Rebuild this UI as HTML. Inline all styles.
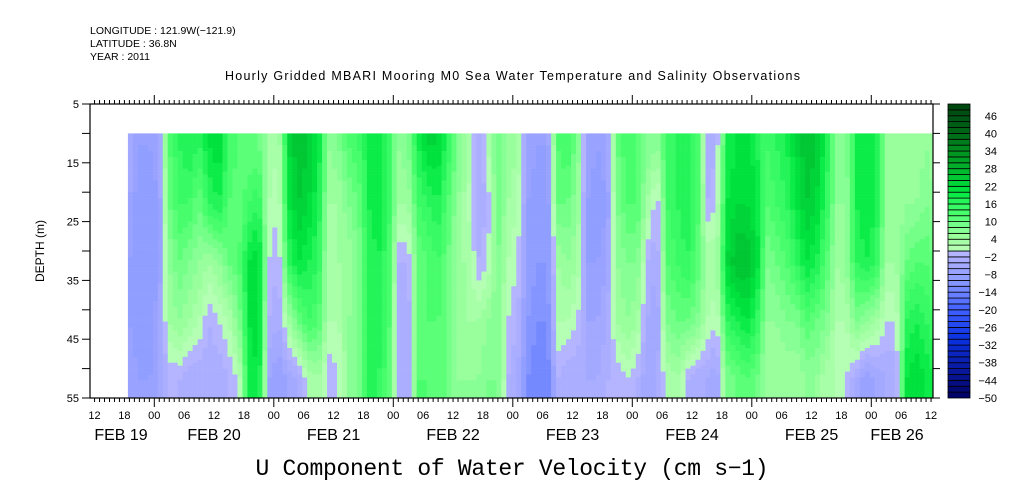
<!DOCTYPE html>
<html><head><meta charset="utf-8"><style>
html,body{margin:0;padding:0;background:#fff;}
svg{display:block;font-family:"Liberation Sans",sans-serif;}
</style></head><body>
<svg id="chart" width="1009" height="504" viewBox="0 0 1009 504">
<text x="90" y="34" font-size="10.5">LONGITUDE : 121.9W(−121.9)</text>
<text x="90" y="47" font-size="10.5">LATITUDE : 36.8N</text>
<text x="90" y="60" font-size="10.5">YEAR : 2011</text>
<text x="225" y="80" font-size="12.5" textLength="575">Hourly Gridded MBARI Mooring M0 Sea Water Temperature and Salinity Observations</text>
<g id="heat"></g>
<g id="axes"></g>
<g id="cbar"></g>
<text x="44" y="251" font-size="12" transform="rotate(-90 44 251)" text-anchor="middle">DEPTH (m)</text>
<text x="512" y="475" font-family="Liberation Mono, monospace" font-size="23" text-anchor="middle" textLength="513">U Component of Water Velocity (cm s−1)</text>
</svg>
<script>
// hours since Feb 19 00:00 (2-hour columns)
const hours = [];
for (let h = 18; h <= 180; h += 2) hours.push(h);
const depths = [12, 22, 32, 42, 52];
const uValues = [
[-4,-6,-8,-8,-6],[-8,-10,-10,-10,-8],[-8,-10,-10,-10,-8],[-6,-8,-8,-6,-6],
[12,10,6,4,-2],[16,14,10,6,-2],[18,14,8,4,-4],[16,10,6,2,-4],
[20,16,4,-2,-4],[22,18,6,0,-4],
[14,12,10,2,-2],[12,10,12,8,0],
[10,14,20,20,18],[10,16,22,22,20],
[4,2,0,-2,-6],[2,0,-2,-4,-8],
[22,20,16,4,-6],[26,24,20,10,-4],[24,22,18,14,2],[20,18,16,12,4],
[6,4,2,2,-2],[8,4,4,2,0],
[12,8,4,6,6],[14,10,8,8,8],
[18,18,16,18,16],[20,20,18,18,16],[16,16,14,14,12],
[6,4,-2,-4,-2],[8,4,-2,-4,-4],
[18,14,10,10,12],[22,16,12,12,12],[22,18,14,12,10],[16,12,10,10,10],
[8,6,4,4,6],[4,2,4,4,6],
[-4,-4,-2,4,6],[2,-2,0,6,8],
[10,10,8,8,8],
[6,4,2,0,-2],[4,2,0,-2,-4],
[-6,-8,-8,-10,-12],[-8,-10,-10,-12,-14],[-8,-10,-10,-12,-14],
[12,10,4,2,-2],[14,10,6,2,-4],[8,6,4,0,-4],
[-6,-8,-8,-6,-4],[-8,-10,-8,-6,-4],[-6,-8,-6,-4,-2],
[10,8,6,4,-2],[14,12,8,6,0],[12,12,8,4,-2],
[8,4,-2,-4,-6],[6,-2,-4,-6,-4],
[14,14,12,8,2],[16,16,14,10,4],[18,18,16,10,-2],[14,14,12,8,-4],
[-4,-2,4,2,-4],[-2,0,4,0,-6],
[18,20,22,16,8],[20,22,26,18,10],[22,22,26,20,12],[18,20,22,16,10],
[14,12,8,6,4],[16,14,10,6,4],[18,16,12,8,4],[22,20,16,8,4],
[26,24,20,12,6],[24,22,18,10,6],[18,16,12,8,2],
[6,6,4,2,2],[8,6,6,2,0],
[18,18,16,8,-4],[20,20,18,6,-8],[18,18,16,4,-6],
[6,6,4,0,-4],[4,4,4,0,-4],
[4,6,10,16,20],[4,6,12,18,22],[6,8,12,16,20],[4,6,10,14,18]
];
const yTicks = [5, 15, 25, 35, 45, 55];
const dayLabels = ["FEB 19","FEB 20","FEB 21","FEB 22","FEB 23","FEB 24","FEB 25","FEB 26"];
const cbarLabels = [46,40,34,28,22,16,10,4,-2,-8,-14,-20,-26,-32,-38,-44,-50];

const NS = "http://www.w3.org/2000/svg";
const X0 = 90, X1 = 933, Y0 = 104, Y1 = 398;
const xs = h => 34.8 + h * 119.5 / 24;
const ys = d => Y0 + (d - 5) * (Y1 - Y0) / 50;
function mk(tag, attrs, parent) { const e = document.createElementNS(NS, tag); for (const k in attrs) e.setAttribute(k, attrs[k]); parent.appendChild(e); return e; }

const stops = [
[-50,[0,0,96]],[-40,[10,26,160]],[-30,[10,48,224]],[-20,[64,96,255]],[-10,[140,155,255]],[-1,[180,180,255]],
[1,[180,255,180]],[4,[160,255,160]],[8,[128,255,144]],[12,[80,255,112]],[16,[48,248,96]],[20,[0,232,64]],[26,[0,192,48]],[34,[0,144,32]],[40,[0,104,24]],[49,[0,72,16]]];
function binColor(bin) {
  const v = -50 + bin * 2 + 1;
  for (let i = 0; i < stops.length - 1; i++) {
    const a = stops[i], b = stops[i+1];
    if (v >= a[0] && v <= b[0]) { const t = (v - a[0]) / (b[0] - a[0]);
      return "rgb(" + a[1].map((c, j) => Math.round(c + (b[1][j] - c) * t)).join(",") + ")"; }
  }
  return v < 0 ? "rgb(0,0,96)" : "rgb(0,72,16)";
}
function colorOf(v) { let b = Math.floor((v + 50) / 2); b = Math.max(0, Math.min(49, b)); return binColor(b); }
function valAt(col, d) {
  if (d <= depths[0]) return col[0];
  if (d >= depths[depths.length-1]) return col[col.length-1];
  for (let i = 0; i < depths.length - 1; i++) if (d <= depths[i+1]) {
    const t = (d - depths[i]) / (depths[i+1] - depths[i]); return col[i] + (col[i+1] - col[i]) * t; }
}
// value at time h (column centres at hours[i]+1), depth d
function valTD(h, d) {
  const c = h - 1;
  let i = Math.floor((c - hours[0]) / 2);
  if (i < 0) return valAt(uValues[0], d);
  if (i >= hours.length - 1) return valAt(uValues[hours.length - 1], d);
  const t = (c - hours[i]) / 2;
  return valAt(uValues[i], d) * (1 - t) + valAt(uValues[i+1], d) * t;
}
const heat = document.getElementById("heat");
const tStart = 18.7, tEnd = 180.4;
for (let h = tStart; h < tEnd; h += 1) {
  const xa = xs(h), xb = Math.min(xs(h + 1), X1);
  for (let d = 10; d < 55; d += 0.5) {
    const r = mk("rect", {x: xa, y: ys(d), width: xb - xa + 0.3, height: ys(d + 0.5) - ys(d) + 0.3, fill: colorOf(valTD(h + 0.5, d + 0.25))}, heat);
    
    
  }
}

const ax = document.getElementById("axes");
mk("rect", {x: X0, y: Y0, width: X1 - X0, height: Y1 - Y0, fill: "none", stroke: "#000", "stroke-width": 1.2}, ax);
for (let h = 11; h <= 180; h++) {
  const x = xs(h); if (x < X0 || x > X1) continue;
  const len = h % 24 === 0 ? 9 : 4;
  mk("line", {x1: x, y1: Y0, x2: x, y2: Y0 - len, stroke: "#000"}, ax);
  mk("line", {x1: x, y1: Y1, x2: x, y2: Y1 + len, stroke: "#000"}, ax);
  if (h % 6 === 0) {
    const hh = h % 24;
    const t = mk("text", {x: x, y: 419, "font-size": 11, "text-anchor": "middle"}, ax);
    t.textContent = (hh < 10 ? "0" : "") + hh;
    
    
  }
}
dayLabels.forEach((lab, i) => {
  let cx = xs(i * 24 + 12);
  if (i === 0) cx = 121; if (i === dayLabels.length - 1) cx = 897;
  const t = mk("text", {x: cx, y: 440, "font-size": 16, "text-anchor": "middle"}, ax);
  t.textContent = lab;
  
  
});
for (let d = 5; d <= 55; d += 5) {
  const y = ys(d);
  mk("line", {x1: X0 - 8, y1: y, x2: X0, y2: y, stroke: "#000"}, ax);
  mk("line", {x1: X1, y1: y, x2: X1 + 7, y2: y, stroke: "#000"}, ax);
}
yTicks.forEach(d => {
  const t = mk("text", {x: 79, y: ys(d) + 4, "font-size": 11, "text-anchor": "end"}, ax);
  t.textContent = d;
  
  
});

const cb = document.getElementById("cbar");
const CX = 948, CW = 22, ch = (Y1 - Y0) / 50;
for (let b = 0; b < 50; b++) {
  const r = mk("rect", {x: CX, y: Y1 - (b + 1) * ch, width: CW, height: ch, fill: binColor(b), stroke: "#000", "stroke-width": 0.8}, cb);
  
  
}
cbarLabels.forEach(v => {
  const y = Y0 + (50 - v) / 100 * (Y1 - Y0);
  const t = mk("text", {x: 997, y: y + 4, "font-size": 11, "text-anchor": "end"}, cb);
  t.textContent = v < 0 ? "−" + (-v) : String(v);
  
  
});
</script>
</body></html>
